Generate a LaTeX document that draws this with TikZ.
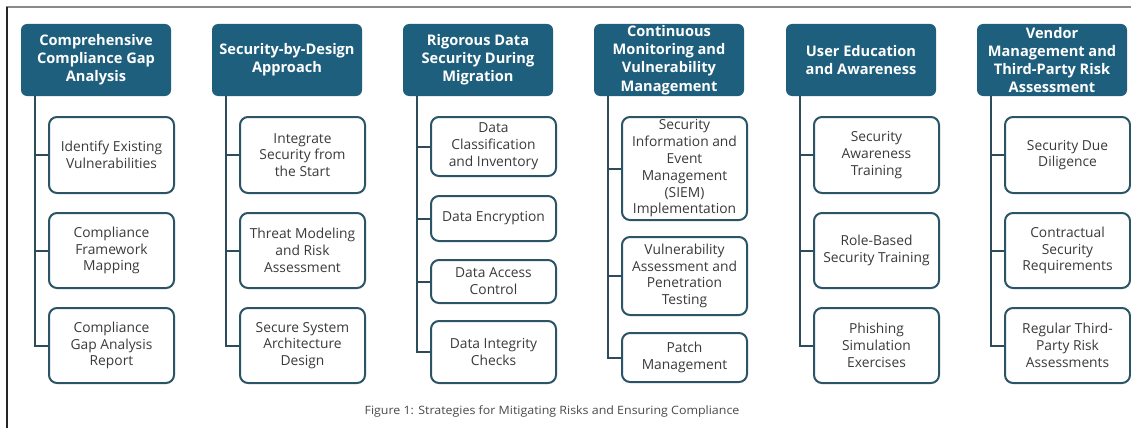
\documentclass[tikz,border=0pt]{standalone}
\usepackage{fontspec}
\setmainfont{Open Sans}
\definecolor{headblue}{HTML}{1F5F7E}
\definecolor{itemedge}{HTML}{2B5566}
\definecolor{linkc}{HTML}{2D4B5A}
\definecolor{textgray}{HTML}{3A3A3A}
\definecolor{capgray}{HTML}{4A4A4A}
\definecolor{framegray}{HTML}{8A8A8A}
\begin{document}
\begin{tikzpicture}[x=1pt,y=-1pt,
  head/.style={fill=headblue, rounded corners=6pt, text=white, align=center, inner sep=0pt,
    minimum width=150pt, minimum height=72pt, font=\fontsize{14.6}{18.2}\selectfont\bfseries},
  item/.style={draw=itemedge, line width=2pt, fill=white, rounded corners=8pt, text=textgray,
    align=center, inner sep=0pt, minimum width=125pt, font=\fontsize{13.8}{16.8}\selectfont},
  link/.style={draw=linkc, line width=2pt},
  captext/.style={text=capgray, font=\fontsize{11.5}{13}\selectfont, inner sep=0pt}]
\useasboundingbox (0,0) rectangle (1131,428);
\fill[white] (0,0) rectangle (1131,428);
% frame
\draw[framegray, line width=2pt] (6,7) -- (1131,7);
\draw[black!85, line width=1.2pt] (7,7) -- (7,428);

% column 1
\node[head] (h1) at (96,60) {Comprehensive\\Compliance Gap\\Analysis};
\node[item, minimum height=76pt] (c11) at (111.5,155) {Identify Existing\\Vulnerabilities};
\node[item, minimum height=75pt] (c12) at (111.5,250.5) {Compliance\\Framework\\Mapping};
\node[item, minimum height=75pt] (c13) at (111.5,345.5) {Compliance\\Gap Analysis\\Report};
% column 2
\node[head] (h2) at (287,60) {Security-by-Design\\Approach};
\node[item, minimum height=76pt] (c21) at (302.5,155) {Integrate\\Security from\\the Start};
\node[item, minimum height=75pt] (c22) at (302.5,250.5) {Threat Modeling\\and Risk\\Assessment};
\node[item, minimum height=75pt] (c23) at (302.5,345.5) {Secure System\\Architecture\\Design};
% column 3
\node[head] (h3) at (478,60) {Rigorous Data\\Security During\\Migration};
\node[item, minimum height=59pt] (c31) at (493.5,146.5) {Data\\Classification\\and Inventory};
\node[item, minimum height=45pt] (c32) at (493.5,218.5) {Data Encryption};
\node[item, minimum height=43pt] (c33) at (493.5,281.5) {Data Access\\Control};
\node[item, minimum height=62pt] (c34) at (493.5,352) {Data Integrity\\Checks};
% column 4
\node[head] (h4) at (669,60) {Continuous\\Monitoring and\\Vulnerability\\Management};
\node[item, minimum height=103pt] (c41) at (684.5,168.5) {Security\\Information and\\Event\\Management\\(SIEM)\\Implementation};
\node[item, minimum height=78pt] (c42) at (684.5,276) {Vulnerability\\Assessment and\\Penetration\\Testing};
\node[item, minimum height=49pt] (c43) at (684.5,357.5) {Patch\\Management};
% column 5
\node[head] (h5) at (861,60) {User Education\\and Awareness};
\node[item, minimum height=76pt] (c51) at (876.5,155) {Security\\Awareness\\Training};
\node[item, minimum height=75pt] (c52) at (876.5,250.5) {Role-Based\\Security Training};
\node[item, minimum height=75pt] (c53) at (876.5,345.5) {Phishing\\Simulation\\Exercises};
% column 6
\node[head] (h6) at (1052,60) {Vendor\\Management and\\Third-Party Risk\\Assessment};
\node[item, minimum height=76pt] (c61) at (1067.5,155) {Security Due\\Diligence};
\node[item, minimum height=75pt] (c62) at (1067.5,250.5) {Contractual\\Security\\Requirements};
\node[item, minimum height=75pt] (c63) at (1067.5,345.5) {Regular Third-\\Party Risk\\Assessments};

% connectors
\foreach \h/\a/\b/\c in {h1/c11/c12/c13, h2/c21/c22/c23, h5/c51/c52/c53, h6/c61/c62/c63, h4/c41/c42/c43}{
  \draw[link] (\h.south west) ++(14,0) |- (\c.west);
  \draw[link] (\h.south west) ++(14,0) |- (\a.west);
  \draw[link] (\h.south west) ++(14,0) |- (\b.west);
}
\draw[link] (h3.south west) ++(14,0) |- (c34.west);
\foreach \c in {c31,c32,c33}{
  \draw[link] (h3.south west) ++(14,0) |- (\c.west);
}

\node[captext, xscale=1.08, transform shape] (caption) at (552,411) {Figure 1: Strategies for Mitigating Risks and Ensuring Compliance};
\end{tikzpicture}
\end{document}
